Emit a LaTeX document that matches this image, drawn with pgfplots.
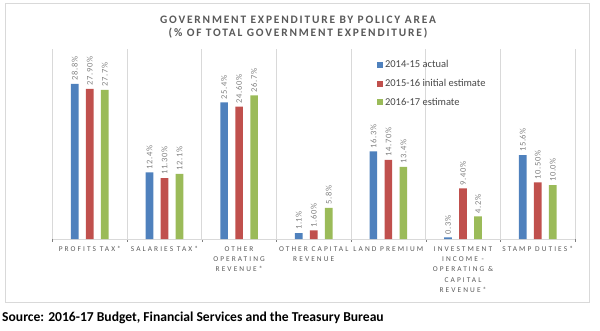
\documentclass[border=0pt]{standalone}
\usepackage{fontspec}
\setmainfont{Carlito}
\newfontfamily\catfont[LetterSpace=28]{Carlito}
\newfontfamily\titlefont[LetterSpace=16]{Carlito}
\newfontfamily\lblfont[LetterSpace=8]{Carlito}
\usepackage{pgfplots}
\usepackage{pgfplotstable}
\pgfplotsset{compat=1.18}
\definecolor{cblue}{HTML}{4F81BD}
\definecolor{cred}{HTML}{C0504D}
\definecolor{cgreen}{HTML}{9BBB59}
\definecolor{txtgray}{HTML}{595959}
\definecolor{lblgray}{HTML}{808080}
\definecolor{gridgray}{HTML}{D9D9D9}

\pgfplotstableread{
x y lab
0 28.8 28.8
1 12.4 12.4
2 25.4 25.4
3 1.1 1.1
4 16.3 16.3
5 0.3 0.3
6 15.6 15.6
}\actual
\pgfplotstableread{
x y lab
0 27.90 27.90
1 11.30 11.30
2 24.60 24.60
3 1.60 1.60
4 14.70 14.70
5 9.40 9.40
6 10.50 10.50
}\initial
\pgfplotstableread{
x y lab
0 27.7 27.7
1 12.1 12.1
2 26.7 26.7
3 5.8 5.8
4 13.4 13.4
5 4.2 4.2
6 10.0 10.0
}\estimate

\begin{document}
\begin{tikzpicture}[x=1pt,y=1pt]
\path[use as bounding box] (0,0) rectangle (600,330);
\draw[gridgray, line width=0.8pt] (5,28) rectangle (589,327);
\node[font=\titlefont\bfseries\fontsize{11.4}{12}\selectfont, text=txtgray] at (298,310) {GOVERNMENT EXPENDITURE BY POLICY AREA};
\node[font=\titlefont\bfseries\fontsize{11.4}{12}\selectfont, text=txtgray] at (298,297) {(\% OF TOTAL GOVERNMENT EXPENDITURE)};
\node[anchor=west, font=\bfseries\fontsize{13.6}{15}\selectfont, text=black, inner sep=0pt] at (2,12) {Source: 2016-17 Budget, Financial Services and the Treasury Bureau};
\begin{axis}[
  at={(52.5pt,91pt)}, anchor=south west,
  scale only axis, width=522.5pt, height=190pt,
  xmin=-0.5, xmax=6.5, ymin=0, ymax=35.3,
  ybar=7.3pt, bar width=7.7pt,
  axis y line=none,
  axis x line*=bottom,
  x axis line style={draw=gridgray, line width=0.8pt, -},
  xtick={0,...,6}, major tick length=0pt,
  minor xtick={-0.5,0.5,...,6.5},
  minor x grid style={gridgray, line width=0.8pt},
  xminorgrids=true,
  xticklabels={{PROFITS TAX*},{SALARIES TAX*},{OTHER\\OPERATING\\REVENUE*},{OTHER CAPITAL\\REVENUE},{LAND PREMIUM},{INVESTMENT\\INCOME -\\OPERATING \&\\CAPITAL\\REVENUE*},{STAMP DUTIES*}},
  xticklabel style={align=center, font=\catfont\fontsize{7.4}{10.3}\selectfont, text=txtgray, yshift=-4pt},
  point meta=explicit symbolic,
  nodes near coords={\pgfplotspointmeta\%},
  nodes near coords style={rotate=90, anchor=west, font=\lblfont\fontsize{8.5}{10}\selectfont, text=lblgray, inner sep=3pt},
  legend style={at={(0.615,0.962)}, anchor=north west, draw=none, fill=none,
    font=\fontsize{10.5}{12}\selectfont, text=txtgray!80!black, row sep=6pt,
    /tikz/every even column/.append style={column sep=2pt}},
  legend cell align=left,
  area legend,
  legend image code/.code={\fill[#1] (0pt,-3pt) rectangle (6pt,3pt);},
]
\addplot[fill=cblue, draw=none] table[x=x, y=y, meta=lab] {\actual};
\addplot[fill=cred, draw=none] table[x=x, y=y, meta=lab] {\initial};
\addplot[fill=cgreen, draw=none] table[x=x, y=y, meta=lab] {\estimate};
\legend{2014-15 actual, 2015-16 initial estimate, 2016-17 estimate}
\end{axis}
\end{tikzpicture}
\end{document}
